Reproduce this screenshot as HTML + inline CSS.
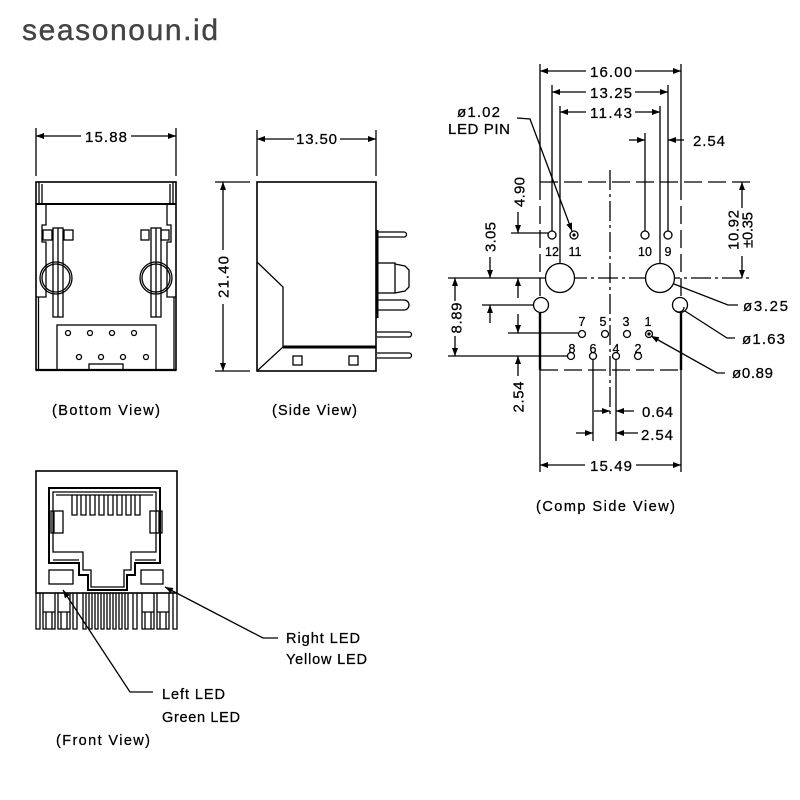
<!DOCTYPE html>
<html><head><meta charset="utf-8"><style>
html,body{margin:0;padding:0;background:#fff;}
svg{display:block}
text{font-family:"Liberation Sans",sans-serif;fill:#000}
.d{stroke:#000;stroke-width:0.25}
</style></head><body>
<svg width="800" height="800" viewBox="0 0 800 800" xmlns="http://www.w3.org/2000/svg">
<defs>
<marker id="a" viewBox="0 0 8 6" refX="8" refY="3" markerWidth="8" markerHeight="6" markerUnits="userSpaceOnUse" orient="auto"><path d="M0,0L8,3L0,6z" fill="#000"/></marker>
</defs>
<rect width="800" height="800" fill="#fff"/>
<text x="22" y="40" font-size="30" style="fill:#444;stroke:#444;stroke-width:0.4" textLength="196" lengthAdjust="spacing">seasonoun.id</text>

<!-- ===== Bottom View ===== -->
<g stroke="#000" stroke-width="1.3" fill="none">
<path d="M36,128V176M176,128V176"/>
<path d="M81,136H36" marker-end="url(#a)"/>
<path d="M131,136H176" marker-end="url(#a)"/>
<rect x="36" y="182" width="140" height="188" stroke-width="1.6"/>
<path d="M36,204H176" stroke-width="2"/>
<path d="M39,182V204M42,184V204M170,184V204M173,182V204"/>
<path d="M46,204V225H42V242H46V297H36"/>
<path d="M167,204V225H171V242H167V297H176"/>
<path d="M38.5,297V370M174,297V370"/>
<rect x="43" y="230" width="9" height="10"/>
<rect x="64" y="230" width="9" height="10"/>
<rect x="53" y="228" width="10" height="89"/>
<path d="M58,228V317"/>
<circle cx="56" cy="278" r="16"/><circle cx="56" cy="278" r="14"/>
<rect x="141" y="230" width="8" height="10"/>
<rect x="161" y="230" width="8" height="10"/>
<rect x="151" y="228" width="10" height="89"/>
<path d="M156,228V317"/>
<circle cx="156" cy="278" r="16"/><circle cx="156" cy="278" r="14"/>
<rect x="57" y="325" width="99" height="45"/>
<circle cx="68" cy="333" r="2.5"/><circle cx="90" cy="333" r="2.5"/><circle cx="112" cy="333" r="2.5"/><circle cx="134" cy="333" r="2.5"/>
<circle cx="79" cy="357" r="2.5"/><circle cx="101" cy="357" r="2.5"/><circle cx="123" cy="357" r="2.5"/><circle cx="146" cy="357" r="2.5"/>
<rect x="89" y="364" width="34" height="6"/>
<path d="M36,370H176" stroke-width="2.2"/>
</g>
<text class="d" x="85" y="142" font-size="15" textLength="42" lengthAdjust="spacing">15.88</text>
<text class="d" x="52" y="415" font-size="14.5" textLength="108" lengthAdjust="spacing">(Bottom View)</text>

<!-- ===== Side View ===== -->
<g stroke="#000" stroke-width="1.3" fill="none">
<path d="M257,130V176M376,130V176"/>
<path d="M294,139H257" marker-end="url(#a)"/>
<path d="M340,139H376" marker-end="url(#a)"/>
<path d="M215,182H250M215,371H250"/>
<path d="M223,250V182" marker-end="url(#a)"/>
<path d="M223,304V371" marker-end="url(#a)"/>
<rect x="257" y="182" width="119" height="189" stroke-width="1.6"/>
<path d="M257,262L283,287V347L257,371"/>
<path d="M283,347H376" stroke-width="3"/>
<rect x="293" y="356" width="9" height="9"/>
<rect x="349" y="356" width="9" height="9"/>
<path d="M377.5,230V318" stroke-width="2"/>
<path d="M377,232H404a2.5,2.5 0 0 1 0,5H377"/>
<rect x="377" y="263" width="18" height="30"/>
<path d="M395,264L405,266L409,270V287L405,291L395,293"/>
<path d="M377,300H404a5,5 0 0 1 0,10H377"/>
<path d="M377,332H409a2.5,2.5 0 0 1 0,5H377"/>
<path d="M377,353H409a2.5,2.5 0 0 1 0,5H377"/>
</g>
<text class="d" x="296" y="144" font-size="15" textLength="41" lengthAdjust="spacing">13.50</text>
<text class="d" transform="translate(223,277) rotate(-90)" x="0" y="5.5" font-size="15" text-anchor="middle" textLength="42" lengthAdjust="spacing">21.40</text>
<text class="d" x="272" y="415" font-size="14.5" textLength="85" lengthAdjust="spacing">(Side View)</text>

<!-- ===== Comp Side View ===== -->
<g stroke="#000" stroke-width="1.3" fill="none">
<path d="M540,64V182M681,64V182"/>
<path d="M552,85V231M668,85V231"/>
<path d="M560,106V278M660,106V278"/>
<path d="M645,133V231"/>
<path d="M586,71H540" marker-end="url(#a)"/>
<path d="M635,71H681" marker-end="url(#a)"/>
<path d="M586,92H552" marker-end="url(#a)"/>
<path d="M635,92H668" marker-end="url(#a)"/>
<path d="M586,112H560" marker-end="url(#a)"/>
<path d="M635,112H660" marker-end="url(#a)"/>
<path d="M629,140H645" marker-end="url(#a)"/>
<path d="M684,140H668" marker-end="url(#a)"/>
<path d="M540,182H750" stroke-dasharray="18,6"/>
<path d="M540,182V297M681,182V297" stroke-dasharray="18,6"/>
<path d="M540,370H681" stroke-dasharray="18,6"/>
<path d="M540,313V370M681,313V370" stroke-width="2.4"/>
<path d="M540,370V472M681,370V472"/>
<path d="M610,170V418" stroke-dasharray="20,4,3,4"/>
<path d="M448,278H536"/>
<path d="M536,278H750" stroke-dasharray="20,4,3,4"/>
<circle cx="552" cy="235" r="4"/>
<circle cx="574" cy="235" r="4"/><circle cx="574" cy="235" r="1" fill="#000"/>
<circle cx="645" cy="235" r="4"/>
<circle cx="668" cy="235" r="4"/>
<circle cx="560" cy="278" r="14.5" fill="#fff"/>
<circle cx="660" cy="278" r="14.5" fill="#fff"/>
<circle cx="541" cy="305" r="7.5" fill="#fff"/>
<circle cx="680" cy="305" r="7.5" fill="#fff"/>
<path d="M676,311a5,5 0 0 0 8,-4"/>
<circle cx="582" cy="334" r="3.5"/><circle cx="605" cy="334" r="3.5"/><circle cx="627" cy="334" r="3.5"/><circle cx="649" cy="334" r="3.5"/><circle cx="649" cy="334" r="1" fill="#000"/>
<circle cx="571" cy="356" r="3.5"/><circle cx="593" cy="356" r="3.5"/><circle cx="616" cy="356" r="3.5"/><circle cx="638" cy="356" r="3.5"/>
<path d="M511,233H548"/>
<path d="M482,305H533"/>
<path d="M508,333H578"/>
<path d="M448,356H567"/>
<path d="M518,212V233" marker-end="url(#a)"/>
<path d="M490,257V278" marker-end="url(#a)"/>
<path d="M490,323V305" marker-end="url(#a)"/>
<path d="M518,298V278" marker-end="url(#a)"/>
<path d="M518,314V333" marker-end="url(#a)"/>
<path d="M455,301V278" marker-end="url(#a)"/>
<path d="M455,336V356" marker-end="url(#a)"/>
<path d="M518,376V356" marker-end="url(#a)"/>
<path d="M742,208V182" marker-end="url(#a)"/>
<path d="M742,256V278" marker-end="url(#a)"/>
<path d="M593,360V441M616,360V441"/>
<path d="M594,411H610" marker-end="url(#a)"/>
<path d="M634,411H616" marker-end="url(#a)"/>
<path d="M576,433H593" marker-end="url(#a)"/>
<path d="M638,433H616" marker-end="url(#a)"/>
<path d="M585,465H540" marker-end="url(#a)"/>
<path d="M636,465H681" marker-end="url(#a)"/>
<path d="M517,118L530,119L572,231" marker-end="url(#a)"/>
<path d="M738,305H728L674,284"/>
<path d="M735,338H727L685,311"/>
<path d="M725,373H717L651,336" marker-end="url(#a)"/>
</g>
<text class="d" x="590" y="77" font-size="15" textLength="42" lengthAdjust="spacing">16.00</text>
<text class="d" x="590" y="98" font-size="15" textLength="42" lengthAdjust="spacing">13.25</text>
<text class="d" x="590" y="118" font-size="15" textLength="42" lengthAdjust="spacing">11.43</text>
<text class="d" x="693" y="146" font-size="15" textLength="32" lengthAdjust="spacing">2.54</text>
<text class="d" x="457" y="117" font-size="15" textLength="43" lengthAdjust="spacing">ø1.02</text>
<text class="d" x="448" y="134" font-size="15" textLength="62" lengthAdjust="spacing">LED PIN</text>
<text class="d" font-size="12.5" text-anchor="middle" x="552" y="256">12</text>
<text class="d" font-size="12.5" text-anchor="middle" x="575" y="256">11</text>
<text class="d" font-size="12.5" text-anchor="middle" x="645" y="256">10</text>
<text class="d" font-size="12.5" text-anchor="middle" x="668" y="256">9</text>
<text class="d" font-size="12.5" text-anchor="middle" x="582" y="326">7</text>
<text class="d" font-size="12.5" text-anchor="middle" x="603" y="326">5</text>
<text class="d" font-size="12.5" text-anchor="middle" x="626" y="326">3</text>
<text class="d" font-size="12.5" text-anchor="middle" x="648" y="326">1</text>
<text class="d" font-size="12.5" text-anchor="middle" x="572" y="353">8</text>
<text class="d" font-size="12.5" text-anchor="middle" x="593" y="353">6</text>
<text class="d" font-size="12.5" text-anchor="middle" x="616" y="353">4</text>
<text class="d" font-size="12.5" text-anchor="middle" x="638" y="353">2</text>
<text class="d" transform="translate(519,192) rotate(-90)" x="0" y="5.5" font-size="15" text-anchor="middle" textLength="30" lengthAdjust="spacing">4.90</text>
<text class="d" transform="translate(490,237) rotate(-90)" x="0" y="5.5" font-size="15" text-anchor="middle" textLength="30" lengthAdjust="spacing">3.05</text>
<text class="d" transform="translate(456,318) rotate(-90)" x="0" y="5.5" font-size="15" text-anchor="middle" textLength="31" lengthAdjust="spacing">8.89</text>
<text class="d" transform="translate(518,397) rotate(-90)" x="0" y="5.5" font-size="15" text-anchor="middle" textLength="31" lengthAdjust="spacing">2.54</text>
<text class="d" transform="translate(733,230) rotate(-90)" x="0" y="5.5" font-size="15" text-anchor="middle" textLength="40" lengthAdjust="spacing">10.92</text>
<text class="d" transform="translate(747,230) rotate(-90)" x="0" y="5.5" font-size="15" text-anchor="middle" textLength="36" lengthAdjust="spacing">±0.35</text>
<text class="d" x="743" y="311" font-size="15" textLength="45" lengthAdjust="spacing">ø3.25</text>
<text class="d" x="742" y="344" font-size="15" textLength="43" lengthAdjust="spacing">ø1.63</text>
<text class="d" x="732" y="378" font-size="15" textLength="41" lengthAdjust="spacing">ø0.89</text>
<text class="d" x="642" y="417" font-size="15" textLength="31" lengthAdjust="spacing">0.64</text>
<text class="d" x="641" y="440" font-size="15" textLength="32" lengthAdjust="spacing">2.54</text>
<text class="d" x="590" y="471" font-size="15" textLength="42" lengthAdjust="spacing">15.49</text>
<text class="d" x="536" y="511" font-size="14.5" textLength="139" lengthAdjust="spacing">(Comp Side View)</text>

<!-- ===== Front View ===== -->
<g stroke="#000" stroke-width="1.3" fill="none">
<rect x="36" y="471" width="141" height="122" stroke-width="1.6"/>
<path d="M49,488H160V563H135V575H127V590H88V575H79V563H49Z" stroke-width="2"/>
<path d="M53,492H156V552H131V570H124V587H91V570H83V552H53Z"/>
<path d="M56,495H153"/>
<path d="M53,560H79M135,560H156"/>
<path d="M72,495V515H77V495M81,495V515H86V495M90,495V515H95V495M99,495V515H104V495M108,495V515H113V495M117,495V515H122V495M126,495V515H131V495M135,495V515H140V495"/>
<rect x="51" y="511" width="12" height="22"/><path d="M54,511V533"/>
<rect x="150" y="511" width="12" height="22"/><path d="M159,511V533"/>
<rect x="49" y="570" width="24" height="14"/>
<rect x="141" y="570" width="22" height="14"/>
<path d="M36,593V629H40V593"/>
<path d="M43,593V629H55V593M46,612V629M52,612V629M43,612H55"/>
<path d="M58,593V629H70V593M61,612V629M67,612V629M58,612H70"/>
<path d="M73,593V629H77V593"/>
<path d="M83,593V629H86V593M89,593V629H92V593M95,593V629H98V593M101,593V629H104V593M107,593V629H110V593M113,593V629H116V593M119,593V629H122V593M125,593V629H128V593"/>
<path d="M133,593V629H137V593"/>
<path d="M142,593V629H154V593M145,612V629M151,612V629M142,612H154"/>
<path d="M157,593V629H169V593M160,612V629M166,612V629M157,612H169"/>
<path d="M173,593V629H177V593"/>
<path d="M153,692H130L63,590" marker-end="url(#a)"/>
<path d="M278,638H263L165,587" marker-end="url(#a)"/>
</g>
<text class="d" x="286" y="643" font-size="14.5" textLength="74" lengthAdjust="spacing">Right LED</text>
<text class="d" x="286" y="664" font-size="14.5" textLength="81" lengthAdjust="spacing">Yellow LED</text>
<text class="d" x="162" y="699" font-size="14.5" textLength="63" lengthAdjust="spacing">Left LED</text>
<text class="d" x="162" y="722" font-size="14.5" textLength="78" lengthAdjust="spacing">Green LED</text>
<text class="d" x="56" y="745" font-size="14.5" textLength="94" lengthAdjust="spacing">(Front View)</text>
</svg>
</body></html>
